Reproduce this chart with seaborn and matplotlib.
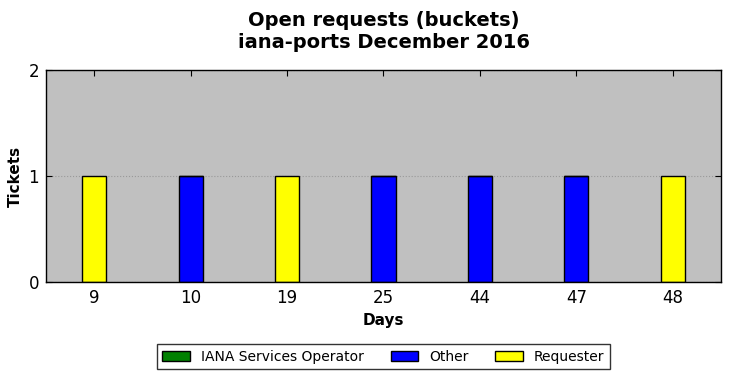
import matplotlib
matplotlib.use("Agg")
import matplotlib.pyplot as plt
import seaborn as sns
import numpy as np

days = ["9", "10", "19", "25", "44", "47", "48"]
iana = [0, 0, 0, 0, 0, 0, 0]
other = [0, 1, 0, 1, 1, 1, 0]
requester = [1, 0, 1, 0, 0, 0, 1]

sns.set_style("ticks")
plt.rcParams['font.family'] = ['DejaVu Sans']
plt.rcParams['text.color'] = 'black'
plt.rcParams['axes.labelcolor'] = 'black'
plt.rcParams['xtick.color'] = 'black'
plt.rcParams['ytick.color'] = 'black'

fig, ax = plt.subplots(figsize=(7.3, 3.78), dpi=100)
fig.subplots_adjust(left=46/730, right=721/730, top=1-70/378, bottom=1-282/378)
ax.set_facecolor("#c0c0c0")

bottom = np.zeros(len(days))
series = [("IANA Services Operator", iana, "green"),
          ("Other", other, "blue"),
          ("Requester", requester, "yellow")]
for name, vals, col in series:
    sns.barplot(x=days, y=vals, color=col, width=0.25, bottom=bottom,
                edgecolor="black", linewidth=1, label=name, ax=ax,
                saturation=1, errorbar=None)
    bottom = bottom + np.array(vals)

ax.set_xlim(-0.5, 6.5)
ax.set_ylim(0, 2)
ax.set_yticks([0, 1, 2])
ax.yaxis.grid(True, linestyle=":", color="#999999", linewidth=0.8)
ax.set_axisbelow(True)
ax.tick_params(direction="in", top=True, right=True, labelsize=12, length=4, pad=5)
for s in ax.spines.values():
    s.set_visible(True)
    s.set_color("black")
    s.set_linewidth(1)

ax.set_xlabel("Days", fontsize=11, fontweight="bold")
ax.set_ylabel("Tickets", fontsize=11, fontweight="bold")
ax.set_title("Open requests (buckets)\niana-ports December 2016",
             fontsize=14, fontweight="bold", pad=16)

leg = ax.legend(loc="upper center", bbox_to_anchor=(0.5, -0.26), ncol=3,
                fontsize=10, frameon=True, fancybox=False, edgecolor="black",
                handlelength=2, columnspacing=1.9, borderpad=0.4)
leg.get_frame().set_linewidth(1)

fig.savefig("out.png", dpi=100)
